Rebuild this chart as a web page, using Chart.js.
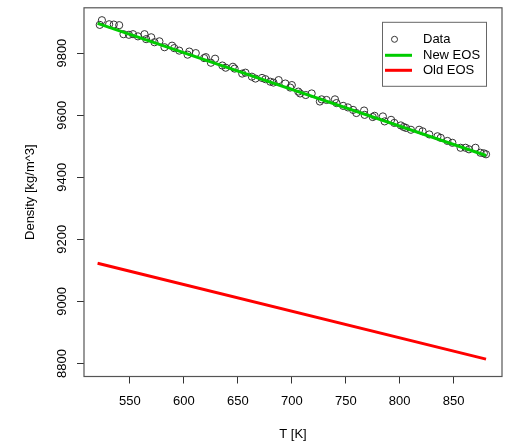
<!DOCTYPE html>
<html>
<head>
<meta charset="utf-8">
<script src="https://cdn.jsdelivr.net/npm/chart.js@4/dist/chart.umd.min.js"></script>
<style>
  html, body { margin: 0; padding: 0; background: #fff; }
  #c { display: block; }
</style>
</head>
<body>
<canvas id="c" width="507" height="444"></canvas>
<script>
// Measured density samples
const tempK = [
  522, 524, 530.7, 535, 540, 544, 549, 552.8, 557.4, 563.5,
  565, 569.7, 572.7, 577.3, 582, 589, 591, 595.7, 603.4, 605,
  611, 618.7, 620.3, 625, 628.9, 635.6, 638.7, 645.4, 647, 654,
  657, 663, 666.3, 672.4, 675.5, 680, 683, 687.8, 694, 698.5,
  700, 706, 707.7, 712.9, 718.4, 726, 727.6, 732.2, 740, 741.4,
  747.6, 752, 756.8, 759.8, 767, 767.5, 775, 776.7, 784.4, 786,
  792, 795, 801, 803.7, 805.8, 810.4, 818, 821.2, 827.4, 835,
  838, 844.2, 848.8, 856.4, 861, 864.2, 870.2, 874.8, 878, 880
];
const density = [
  9891, 9906, 9893, 9892, 9890, 9861, 9859, 9861, 9854, 9861,
  9845, 9851, 9835, 9838, 9819, 9824, 9816, 9808, 9795, 9805,
  9800, 9784, 9787, 9769, 9782, 9760, 9753, 9756, 9750, 9734,
  9737, 9724, 9718, 9720, 9716, 9708, 9705, 9713, 9702, 9689,
  9697, 9676, 9670, 9665, 9670, 9644, 9651, 9649, 9651, 9639,
  9630, 9625, 9617, 9607, 9615, 9601, 9594, 9598, 9596, 9580,
  9585, 9575, 9567, 9562, 9559, 9553, 9553, 9548, 9538, 9532,
  9527, 9517, 9511, 9495, 9495, 9490, 9495, 9479, 9477, 9474
];

// Equation-of-state curves (end points of the straight fits)
const eosT = [520, 880];
const newEOS = [9896, 9470];
const oldEOS = [9123, 8814];

// Axis ticks
const xTicks = [550, 600, 650, 700, 750, 800, 850];
const yTicks = [8800, 9000, 9200, 9400, 9600, 9800];

const legendLabels = ['Data', 'New EOS', 'Old EOS'];

const pts = (xs, ys) => xs.map((x, i) => ({ x: x, y: ys[i] }));

const FONT = 'Liberation Sans, Arial, Helvetica, sans-serif';

// Frame around the plotting region
const frame = {
  id: 'frame',
  afterDraw(chart) {
    const { ctx, chartArea: a } = chart;
    ctx.save();
    ctx.strokeStyle = '#555';
    ctx.lineWidth = 1.2;
    ctx.strokeRect(a.left, a.top, a.right - a.left, a.bottom - a.top);
    ctx.restore();
  }
};

// Boxed legend in the top-right corner of the plot
const boxLegend = {
  id: 'boxLegend',
  afterDraw(chart) {
    const { ctx, chartArea: a } = chart;
    const ds = chart.data.datasets;
    const right = a.right - 16;
    const top = a.top + 14;
    const w = 104, h = 64;
    const left = right - w;
    ctx.save();
    ctx.strokeStyle = '#666';
    ctx.lineWidth = 1;
    ctx.strokeRect(left + 0.5, top + 0.5, w, h);
    ctx.font = '13px ' + FONT;
    ctx.fillStyle = '#000';
    ctx.textBaseline = 'middle';
    ctx.textAlign = 'left';
    const rows = [top + 17.5, top + 33.5, top + 48.5];
    const symX = left + 3, symW = 27;
    ds.forEach((d, i) => {
      const y = rows[i];
      if (i === 0) {
        ctx.beginPath();
        ctx.arc(symX + symW / 2 - 4, y, 3, 0, Math.PI * 2);
        ctx.strokeStyle = d.borderColor;
        ctx.lineWidth = 1;
        ctx.stroke();
      } else {
        ctx.beginPath();
        ctx.moveTo(symX, y);
        ctx.lineTo(symX + symW, y);
        ctx.strokeStyle = d.borderColor;
        ctx.lineWidth = 3;
        ctx.stroke();
      }
      ctx.fillText(legendLabels[i], left + 41, y);
    });
    ctx.restore();
  }
};

new Chart(document.getElementById('c'), {
  type: 'scatter',
  data: {
    datasets: [
      {
        label: legendLabels[0],
        data: pts(tempK, density),
        showLine: false,
        pointStyle: 'circle',
        pointRadius: 3.6,
        pointBorderWidth: 1,
        borderColor: '#333',
        backgroundColor: 'rgba(0,0,0,0)',
        pointBackgroundColor: 'rgba(0,0,0,0)',
        order: 2
      },
      {
        label: legendLabels[1],
        data: pts(eosT, newEOS),
        showLine: true,
        borderColor: '#00cc00',
        borderWidth: 3,
        pointRadius: 0,
        order: 1
      },
      {
        label: legendLabels[2],
        data: pts(eosT, oldEOS),
        showLine: true,
        borderColor: '#ff0000',
        borderWidth: 3,
        pointRadius: 0,
        order: 1
      }
    ]
  },
  options: {
    responsive: false,
    animation: false,
    devicePixelRatio: 1,
    layout: { padding: { left: 0, right: 2, top: 3.5, bottom: 0 } },
    plugins: {
      legend: { display: false },
      tooltip: { enabled: false }
    },
    scales: {
      x: {
        type: 'linear',
        min: 507.4,
        max: 894.8,
        afterBuildTicks: s => { s.ticks = xTicks.map(v => ({ value: v })); },
        afterFit: s => { s.height = 67.5; },
        grid: { drawOnChartArea: false, drawTicks: true, tickLength: 7, color: '#333', lineWidth: 1 },
        border: { display: false },
        ticks: { color: '#000', font: { family: FONT, size: 13 }, padding: 10, maxRotation: 0, minRotation: 0, callback: v => String(v) },
        title: { display: true, text: 'T [K]', color: '#000', font: { family: FONT, size: 13 }, padding: { top: 0, bottom: 2.2 } }
      },
      y: {
        type: 'linear',
        min: 8758,
        max: 9946,
        afterBuildTicks: s => { s.ticks = yTicks.map(v => ({ value: v })); },
        afterFit: s => { s.width = 84; },
        grid: { drawOnChartArea: false, drawTicks: true, tickLength: 7, color: '#333', lineWidth: 1 },
        border: { display: false },
        ticks: { color: '#000', font: { family: FONT, size: 13 }, padding: 0, minRotation: 90, maxRotation: 90, crossAlign: 'center', callback: v => String(v) },
        title: { display: true, text: 'Density [kg/m^3]', color: '#000', font: { family: FONT, size: 13 }, padding: { top: 23, bottom: 0 } }
      }
    }
  },
  plugins: [frame, boxLegend]
});
</script>
</body>
</html>
